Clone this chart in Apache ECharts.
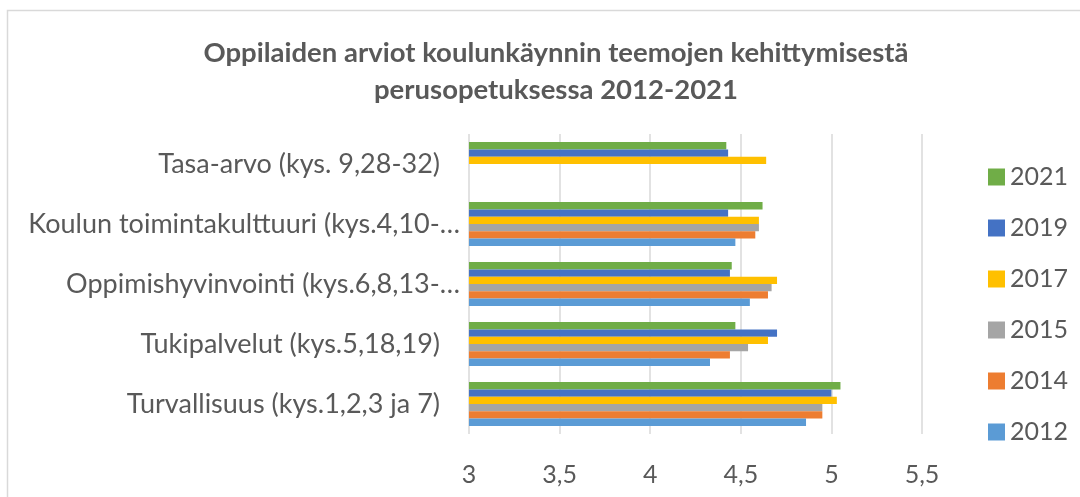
<!DOCTYPE html>
<html>
<head>
<meta charset="utf-8">
<script src="https://cdn.jsdelivr.net/npm/echarts@6/dist/echarts.min.js"></script>
<style>
html,body{margin:0;padding:0;background:#fff;}
#chart{width:1080px;height:497px;}
</style>
</head>
<body>
<div id="chart"></div>
<script>
// Categories (bottom to top, as in the reference)
var categories = [
  'Turvallisuus (kys.1,2,3 ja 7)',
  'Tukipalvelut (kys.5,18,19)',
  'Oppimishyvinvointi (kys.6,8,13-…',
  'Koulun toimintakulttuuri (kys.4,10-…',
  'Tasa-arvo (kys. 9,28-32)'
];
// Series order: top of each group first
var years = ['2021', '2019', '2017', '2015', '2014', '2012'];
var v2021 = [5.05, 4.47, 4.45, 4.62, 4.42];
var v2019 = [5.00, 4.70, 4.44, 4.43, 4.43];
var v2017 = [5.03, 4.65, 4.70, 4.60, 4.64];
var v2015 = [4.95, 4.54, 4.67, 4.60, null];
var v2014 = [4.95, 4.44, 4.65, 4.58, null];
var v2012 = [4.86, 4.33, 4.55, 4.47, null];
var xTicks = [3, 3.5, 4, 4.5, 5, 5.5];

var values = [v2021, v2019, v2017, v2015, v2014, v2012];
var colors = ['#70AD47', '#4472C4', '#FFC000', '#A5A5A5', '#ED7D31', '#5B9BD5'];

var chart = echarts.init(document.getElementById('chart'));
var FONT = 'Lato';
var series = years.map(function (y, i) {
  return {
    name: y,
    type: 'bar',
    data: values[i],
    barGap: '0%',
    barCategoryGap: '27%',
    itemStyle: { color: colors[i] }
  };
});

chart.setOption({
  animation: false,
  backgroundColor: '#fff',
  title: {
    text: 'Oppilaiden arviot koulunkäynnin teemojen kehittymisestä\nperusopetuksessa 2012-2021',
    left: 551,
    top: 30,
    textAlign: 'center',
    textStyle: {
      fontFamily: FONT,
      fontWeight: 'bold',
      fontSize: 27.5,
      lineHeight: 37,
      color: '#595959'
    }
  },
  graphic: [{
    type: 'rect',
    shape: { x: 7.5, y: 10.5, width: 1100, height: 520 },
    style: { fill: 'none', stroke: '#d9d9d9', lineWidth: 1.5 },
    silent: true
  }],
  legend: {
    orient: 'vertical',
    left: 983,
    top: 159,
    data: years,
    itemWidth: 17,
    itemHeight: 17,
    itemGap: 25,
    icon: 'rect',
    textStyle: {
      fontFamily: FONT,
      fontSize: 25,
      lineHeight: 26,
      color: '#595959'
    }
  },
  grid: {
    left: 469,
    right: 158,
    top: 134,
    bottom: 63,
    containLabel: false
  },
  xAxis: {
    type: 'value',
    min: xTicks[0],
    max: xTicks[xTicks.length - 1],
    interval: 0.5,
    axisLine: { show: false },
    axisTick: { show: false },
    splitLine: { show: true, lineStyle: { color: '#d9d9d9', width: 1.5 } },
    axisLabel: {
      margin: 28,
      fontFamily: FONT,
      fontSize: 25,
      color: '#595959',
      formatter: function (v) { return String(v).replace('.', ','); }
    }
  },
  yAxis: {
    type: 'category',
    data: categories,
    axisLine: { show: false },
    axisTick: { show: false },
    splitLine: { show: false },
    axisLabel: {
      margin: 9,
      fontFamily: FONT,
      fontSize: 27,
      color: '#595959',
      formatter: function (v) {
        return v.slice(-1) === '…' ? '{t|' + v + '}' : '{n|' + v + '}';
      },
      rich: {
        t: { fontFamily: FONT, fontSize: 27, color: '#595959' },
        n: { fontFamily: FONT, fontSize: 27, color: '#595959', padding: [0, 20, 0, 0] }
      }
    }
  },
  series: series
});
</script>
</body>
</html>
